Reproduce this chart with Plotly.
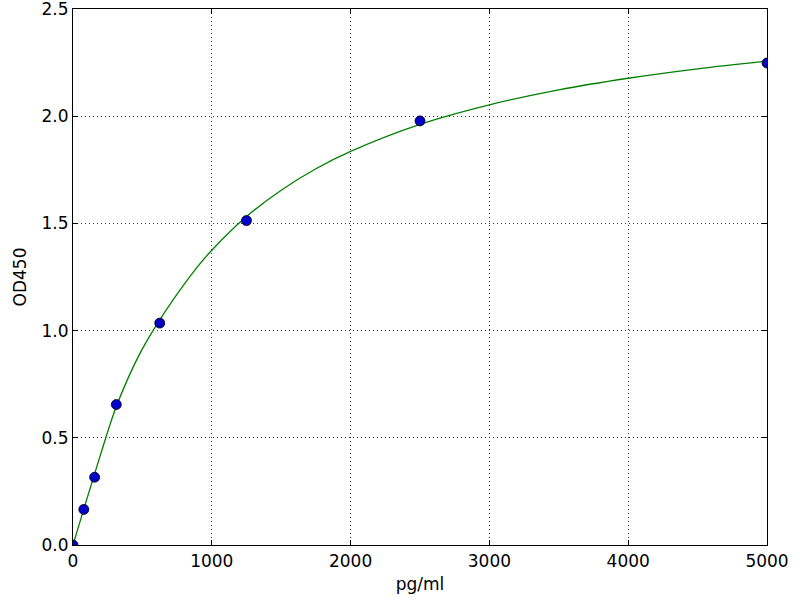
import plotly.graph_objects as go

# standard points (pg/ml vs OD450)
conc = [0, 78, 156, 312, 625, 1250, 2500, 5000]
od = [0.0, 0.166, 0.316, 0.655, 1.035, 1.513, 1.978, 2.248]

# fitted curve
curve_x = [0, 50, 100, 150, 200, 300, 400, 500, 625, 750, 875, 1000, 1250,
           1500, 1750, 2000, 2500, 3000, 3500, 4000, 4500, 5000]
curve_y = [0.0, 0.108, 0.215, 0.32, 0.425, 0.625, 0.783, 0.915, 1.05, 1.17,
           1.28, 1.375, 1.532, 1.655, 1.755, 1.836, 1.962, 2.053, 2.123,
           2.177, 2.221, 2.257]

font = dict(family='DejaVu Sans', size=17, color='black')

fig = go.Figure()
fig.add_trace(go.Scatter(
    x=curve_x, y=curve_y, mode='lines',
    line=dict(color='#008000', width=1.3, shape='spline', smoothing=1.0),
    hoverinfo='skip'
))
fig.add_trace(go.Scatter(
    x=conc, y=od, mode='markers',
    marker=dict(color='#0000c8', size=10, line=dict(color='black', width=0.8))
))

axis_common = dict(
    showline=True, linecolor='black', linewidth=1.2, mirror='ticks',
    ticks='inside', ticklen=5, tickcolor='black',
    showgrid=True, gridcolor='#333333', griddash='1px,3px', gridwidth=1,
    zeroline=False, tickfont=font, ticklabeloverflow='allow',
    automargin=False
)

fig.update_layout(
    width=800, height=600,
    plot_bgcolor='white', paper_bgcolor='white',
    showlegend=False,
    margin=dict(l=73, r=33, t=9, b=55),
    xaxis=dict(range=[0, 5000], tickvals=[0, 1000, 2000, 3000, 4000, 5000],
               title=dict(text='pg/ml', font=font, standoff=8), **axis_common),
    yaxis=dict(range=[0, 2.5], tickvals=[0, 0.5, 1.0, 1.5, 2.0, 2.5],
               tickformat='.1f',
               title=dict(text='OD450', font=font, standoff=10), **axis_common),
)

# drop the default page margin so the figure sits at the window corner
fig.write_html("out.html", config={'displayModeBar': False},
               post_script="document.body.style.margin='0';")
